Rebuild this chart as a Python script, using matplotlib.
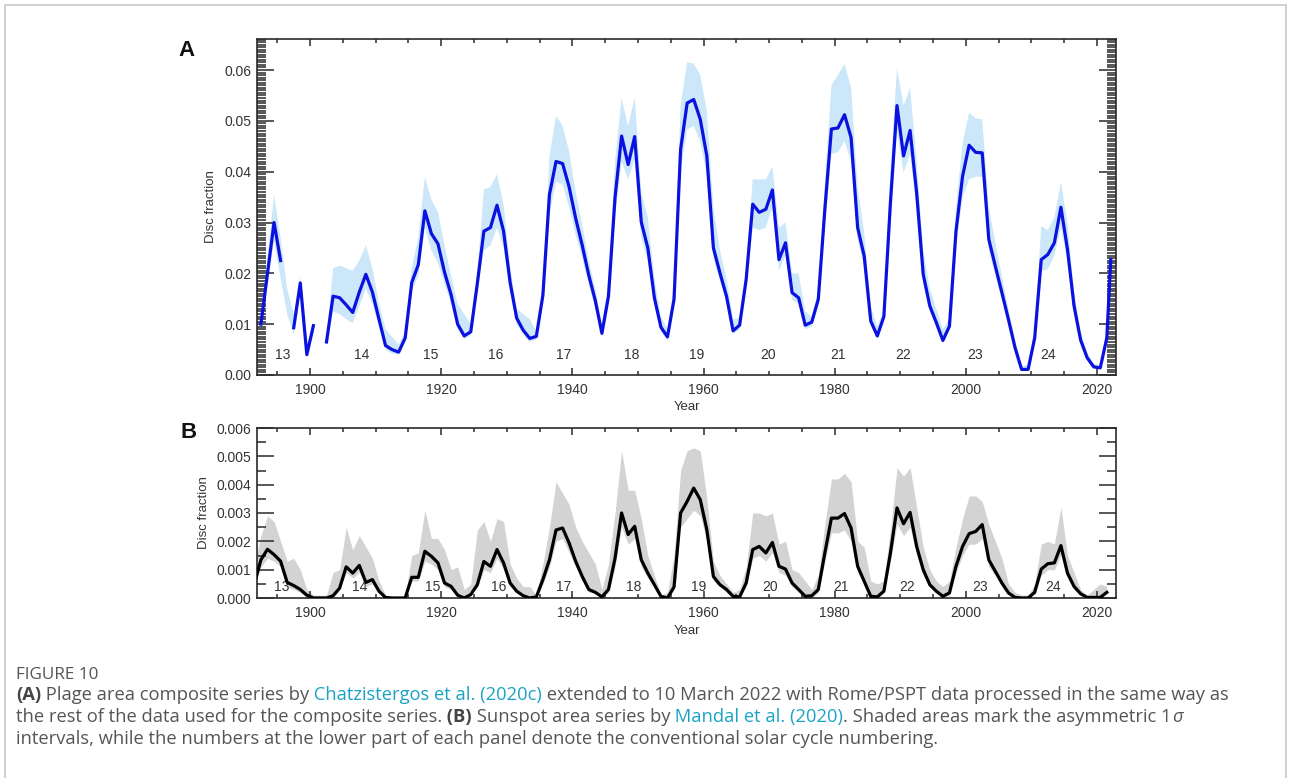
import numpy as np
import matplotlib
matplotlib.use('Agg')
import matplotlib.pyplot as plt
from matplotlib.ticker import MultipleLocator, FormatStrFormatter
from matplotlib.patches import Rectangle

# ---------------- data ----------------
# Panel A: plage area composite (yearly values, last point = early 2022)
years_a = np.append(np.arange(1892.5, 2022, 1.0), 2022.1)
plage = [
    0.0100, 0.0200, 0.0300, 0.0225, np.nan, 0.0093, 0.0181, 0.0040, 0.0097, np.nan,
    0.0065, 0.0155, 0.0152, 0.0138, 0.0123, 0.0163, 0.0198, 0.0163, 0.0110, 0.0058,
    0.0050, 0.0045, 0.0073, 0.0182, 0.0217, 0.0323, 0.0278, 0.0258, 0.0202, 0.0158,
    0.0100, 0.0077, 0.0085, 0.0180, 0.0283, 0.0290, 0.0334, 0.0283, 0.0182, 0.0112,
    0.0088, 0.0072, 0.0076, 0.0157, 0.0355, 0.0420, 0.0416, 0.0370, 0.0308, 0.0255,
    0.0196, 0.0146, 0.0082, 0.0155, 0.0349, 0.0470, 0.0414, 0.0469, 0.0301, 0.0250,
    0.0152, 0.0094, 0.0075, 0.0149, 0.0444, 0.0535, 0.0542, 0.0503, 0.0431, 0.0250,
    0.0201, 0.0155, 0.0087, 0.0098, 0.0188, 0.0336, 0.0320, 0.0326, 0.0364, 0.0227,
    0.0260, 0.0162, 0.0152, 0.0098, 0.0104, 0.0149, 0.0326, 0.0484, 0.0486, 0.0512,
    0.0467, 0.0290, 0.0234, 0.0106, 0.0077, 0.0115, 0.0339, 0.0530, 0.0431, 0.0481,
    0.0358, 0.0198, 0.0136, 0.0103, 0.0068, 0.0096, 0.0283, 0.0391, 0.0452, 0.0438,
    0.0437, 0.0267, 0.0214, 0.0162, 0.0109, 0.0054, 0.0011, 0.0011, 0.0073, 0.0227,
    0.0237, 0.0260, 0.0330, 0.0247, 0.0136, 0.0069, 0.0034, 0.0016, 0.0014, 0.0073,
    0.0227,
]
plage_lo = [
    0.0085, 0.0175, 0.0265, 0.0190, 0.0120, 0.0080, 0.0165, 0.0035, 0.0090, np.nan,
    0.0060, 0.0125, 0.0120, 0.0110, 0.0102, 0.0135, 0.0170, 0.0140, 0.0095, 0.0050,
    0.0042, 0.0040, 0.0065, 0.0165, 0.0195, 0.0290, 0.0245, 0.0220, 0.0180, 0.0140,
    0.0090, 0.0070, 0.0078, 0.0160, 0.0245, 0.0255, 0.0290, 0.0250, 0.0165, 0.0100,
    0.0080, 0.0065, 0.0070, 0.0140, 0.0315, 0.0380, 0.0375, 0.0330, 0.0275, 0.0230,
    0.0178, 0.0132, 0.0075, 0.0140, 0.0310, 0.0420, 0.0385, 0.0425, 0.0270, 0.0225,
    0.0140, 0.0085, 0.0068, 0.0135, 0.0400, 0.0483, 0.0490, 0.0460, 0.0395, 0.0230,
    0.0185, 0.0142, 0.0080, 0.0090, 0.0170, 0.0290, 0.0285, 0.0290, 0.0330, 0.0205,
    0.0235, 0.0148, 0.0140, 0.0090, 0.0095, 0.0135, 0.0290, 0.0435, 0.0438, 0.0460,
    0.0420, 0.0265, 0.0215, 0.0098, 0.0070, 0.0105, 0.0305, 0.0480, 0.0398, 0.0435,
    0.0325, 0.0180, 0.0125, 0.0095, 0.0062, 0.0088, 0.0255, 0.0350, 0.0385, 0.0390,
    0.0390, 0.0245, 0.0195, 0.0148, 0.0100, 0.0050, 0.0009, 0.0009, 0.0065, 0.0205,
    0.0208, 0.0235, 0.0290, 0.0225, 0.0125, 0.0063, 0.0030, 0.0013, 0.0012, 0.0066,
    0.0210,
]
plage_hi = [
    0.0115, 0.0230, 0.0355, 0.0270, 0.0170, 0.0120, 0.0195, 0.0048, 0.0105, np.nan,
    0.0072, 0.0210, 0.0215, 0.0210, 0.0205, 0.0225, 0.0255, 0.0210, 0.0140, 0.0090,
    0.0075, 0.0060, 0.0085, 0.0210, 0.0270, 0.0390, 0.0345, 0.0320, 0.0255, 0.0195,
    0.0140, 0.0120, 0.0100, 0.0200, 0.0365, 0.0370, 0.0395, 0.0335, 0.0215, 0.0130,
    0.0120, 0.0110, 0.0085, 0.0175, 0.0430, 0.0510, 0.0490, 0.0440, 0.0360, 0.0295,
    0.0225, 0.0170, 0.0100, 0.0180, 0.0420, 0.0545, 0.0490, 0.0545, 0.0360, 0.0310,
    0.0190, 0.0115, 0.0090, 0.0175, 0.0530, 0.0615, 0.0613, 0.0590, 0.0520, 0.0330,
    0.0245, 0.0190, 0.0110, 0.0112, 0.0210, 0.0385, 0.0385, 0.0385, 0.0410, 0.0290,
    0.0300, 0.0200, 0.0200, 0.0125, 0.0115, 0.0165, 0.0380, 0.0570, 0.0590, 0.0612,
    0.0565, 0.0370, 0.0280, 0.0135, 0.0095, 0.0130, 0.0400, 0.0604, 0.0530, 0.0565,
    0.0420, 0.0245, 0.0170, 0.0130, 0.0090, 0.0110, 0.0330, 0.0455, 0.0516, 0.0505,
    0.0503, 0.0330, 0.0260, 0.0195, 0.0130, 0.0070, 0.0018, 0.0020, 0.0085, 0.0293,
    0.0285, 0.0310, 0.0380, 0.0300, 0.0165, 0.0085, 0.0045, 0.0022, 0.0020, 0.0085,
    0.0245,
]

# Panel B: sunspot area series (yearly values)
years_b = np.arange(1891.5, 2022, 1.0)
spots = [
    0.0005, 0.00135, 0.00172, 0.00153, 0.0013, 0.00055, 0.00044, 0.0003, 0.0001, 0.0,
    0.0, 0.0, 0.00008, 0.00035, 0.0011, 0.00088, 0.00115, 0.00055, 0.00065, 0.00024,
    0.00002, 0.0, 0.0, 0.0, 0.00073, 0.00073, 0.00165, 0.00147, 0.00124, 0.00053,
    0.00041, 0.0001, 0.0, 0.00012, 0.00047, 0.00129, 0.00112, 0.00171, 0.00124, 0.00053,
    0.00024, 0.00008, 0.0, 0.00004, 0.00065, 0.00135, 0.0024, 0.00247, 0.00194, 0.00129,
    0.00076, 0.0003, 0.0002, 0.00004, 0.0003, 0.0014, 0.003, 0.00224, 0.00253, 0.00135,
    0.00088, 0.00047, 0.00006, 0.0, 0.00039, 0.003, 0.00341, 0.00388, 0.00347, 0.00241,
    0.00076, 0.00047, 0.0003, 0.00006, 0.00004, 0.00053, 0.00171, 0.00182, 0.00159, 0.00196,
    0.00112, 0.00102, 0.00053, 0.0003, 0.00006, 0.00008, 0.0003, 0.00159, 0.00282, 0.00282,
    0.00298, 0.00247, 0.00112, 0.00059, 0.00006, 0.00004, 0.00024, 0.00159, 0.00318, 0.00262,
    0.00302, 0.00182, 0.001, 0.00047, 0.00024, 0.00006, 0.00018, 0.00112, 0.00182, 0.00227,
    0.00235, 0.00259, 0.00135, 0.00094, 0.00053, 0.00018, 0.00002, 0.0, 0.0, 0.0002,
    0.00102, 0.00121, 0.00124, 0.00185, 0.00088, 0.00041, 0.00015, 0.00002, 0.00002, 0.00002,
    0.0002,
]
spots_lo = [
    0.0004, 0.0011, 0.0014, 0.0013, 0.0011, 0.0004, 0.0003, 0.0002, 0.0, 0.0,
    0.0, 0.0, 0.0, 0.0003, 0.0009, 0.0007, 0.0009, 0.0004, 0.0005, 0.0002,
    0.0, 0.0, 0.0, 0.0, 0.0006, 0.0006, 0.0013, 0.0012, 0.001, 0.0004,
    0.0003, 0.0001, 0.0, 0.0001, 0.0004, 0.001, 0.0009, 0.0014, 0.001, 0.0004,
    0.0002, 0.0001, 0.0, 0.0, 0.0005, 0.0011, 0.002, 0.0021, 0.0016, 0.0011,
    0.0006, 0.0002, 0.0002, 0.0, 0.0002, 0.0011, 0.0025, 0.0019, 0.0021, 0.0011,
    0.0007, 0.0004, 0.0, 0.0, 0.0003, 0.0025, 0.0028, 0.0031, 0.0029, 0.002,
    0.0006, 0.0004, 0.0002, 0.0, 0.0, 0.0004, 0.0014, 0.0015, 0.0013, 0.0016,
    0.0009, 0.0008, 0.0004, 0.0002, 0.0, 0.0, 0.0002, 0.0013, 0.0023, 0.0023,
    0.0024, 0.002, 0.0009, 0.0005, 0.0, 0.0, 0.0002, 0.0013, 0.0026, 0.0022,
    0.0025, 0.0015, 0.0008, 0.0004, 0.0002, 0.0, 0.0001, 0.0009, 0.0015, 0.0019,
    0.0019, 0.0021, 0.0011, 0.0008, 0.0004, 0.0001, 0.0, 0.0, 0.0, 0.0002,
    0.0008, 0.001, 0.001, 0.0015, 0.0007, 0.0003, 0.0001, 0.0, 0.0, 0.0,
    0.0002,
]
spots_hi = [
    0.0012, 0.0022, 0.0029, 0.0027, 0.002, 0.0013, 0.0014, 0.001, 0.0003, 0.0001,
    0.0001, 0.0001, 0.0009, 0.001, 0.0025, 0.0017, 0.0022, 0.0018, 0.0014, 0.0006,
    0.0001, 0.0, 0.0, 0.0001, 0.0015, 0.0016, 0.0031, 0.0021, 0.0021, 0.0017,
    0.001, 0.0011, 0.0003, 0.0005, 0.0024, 0.0027, 0.002, 0.0028, 0.0027, 0.0012,
    0.0007, 0.0004, 0.0004, 0.0001, 0.0012, 0.0025, 0.0041, 0.0037, 0.0033, 0.0025,
    0.002, 0.0016, 0.0012, 0.0003, 0.0012, 0.003, 0.0052, 0.0038, 0.0038, 0.0028,
    0.0015, 0.0008, 0.0001, 0.0002, 0.0015, 0.0045, 0.0052, 0.0053, 0.0052, 0.0035,
    0.0013, 0.0008, 0.0005, 0.0002, 0.0003, 0.0011, 0.003, 0.003, 0.0029, 0.003,
    0.0019, 0.002, 0.001, 0.0009, 0.0006, 0.0003, 0.0008, 0.0026, 0.0042, 0.0042,
    0.0044, 0.0041, 0.002, 0.0018, 0.0006, 0.0005, 0.0006, 0.0024, 0.0046, 0.0043,
    0.0046, 0.0032, 0.0018, 0.001, 0.0006, 0.0004, 0.0006, 0.0018, 0.0028, 0.0036,
    0.0036, 0.0034, 0.0026, 0.002, 0.0014, 0.0005, 0.0002, 0.0001, 0.0001, 0.0005,
    0.0019, 0.002, 0.0019, 0.0032, 0.0015, 0.0009, 0.0003, 0.0001, 0.0003, 0.0005,
    0.0004,
]

# solar cycle numbers and where they are written
cycle_nums = ['13', '14', '15', '16', '17', '18', '19', '20', '21', '22', '23', '24']
cycle_x_a = [1895.8, 1907.8, 1918.4, 1928.3, 1938.7, 1949.1, 1958.9, 1969.8, 1980.5, 1990.4, 2001.4, 2012.5]
cycle_x_b = [1895.7, 1907.6, 1918.7, 1928.7, 1938.6, 1949.3, 1959.3, 1970.1, 1981.0, 1991.0, 2002.1, 2013.3]

# ---------------- figure ----------------
W, H = 1290, 778
fig = plt.figure(figsize=(W / 100, H / 100), dpi=100)
plt.rcParams['font.family'] = ['Liberation Sans', 'DejaVu Sans']

dark = '#2a2a2a'
txt = '#333333'


def box(left, top, right, bottom):
    return [left / W, 1 - bottom / H, (right - left) / W, (bottom - top) / H]


def style_axes(ax, ymax, ystep, fmt):
    ax.set_xlim(1891.9, 2022.9)
    ax.set_ylim(0, ymax)
    ax.xaxis.set_major_locator(MultipleLocator(20))
    ax.xaxis.set_minor_locator(MultipleLocator(5))
    ax.yaxis.set_major_locator(MultipleLocator(ystep))
    ax.yaxis.set_minor_locator(MultipleLocator(ystep / 20 if ystep > 0.005 else ystep / 2))
    ax.yaxis.set_major_formatter(FormatStrFormatter(fmt))
    ax.tick_params(which='both', direction='in', top=True, right=True,
                   color=dark, labelcolor=txt, labelsize=10)
    ax.tick_params(axis='y', which='major', length=12.5, width=1.1, pad=4)
    ax.tick_params(axis='y', which='minor', length=6.5, width=1.1)
    ax.tick_params(axis='x', which='major', length=5, width=1.1, pad=6)
    ax.tick_params(axis='x', which='minor', length=3, width=1.1)
    for s in ax.spines.values():
        s.set_linewidth(1.2)
        s.set_color(dark)


# Panel A
axA = fig.add_axes(box(257, 39, 1116, 375))
axA.fill_between(years_a, plage_lo, plage_hi, color='#cce7f9', lw=0, zorder=1)
axA.plot(years_a, plage, color='#0b12e0', lw=2.3, zorder=3)
style_axes(axA, 0.0661, 0.01, '%.2f')
axA.set_xlabel('Year', fontsize=9.5, color=txt, labelpad=3)
axA.set_ylabel('Disc fraction', fontsize=9.5, color=txt, labelpad=5)
for n, xc in zip(cycle_nums, cycle_x_a):
    axA.text(xc, 0.06, n, transform=axA.get_xaxis_transform(), ha='center',
             va='center', fontsize=10, color=txt, zorder=2)
fig.text(186 / W, 1 - 50 / H, 'A', fontsize=16, fontweight='bold', color='#111111',
         ha='center', va='center')

# Panel B
axB = fig.add_axes(box(257, 428, 1116, 598))
axB.fill_between(years_b, spots_lo, spots_hi, color='#d3d3d3', lw=0, zorder=1)
axB.plot(years_b, spots, color='#000000', lw=2.3, zorder=3)
style_axes(axB, 0.006, 0.001, '%.3f')
axB.set_xlabel('Year', fontsize=9.5, color=txt, labelpad=3)
axB.set_ylabel('Disc fraction', fontsize=9.5, color=txt, labelpad=5)
for n, xc in zip(cycle_nums, cycle_x_b):
    axB.text(xc, 0.066, n, transform=axB.get_xaxis_transform(), ha='center',
             va='center', fontsize=10, color=txt, zorder=2)
fig.text(189 / W, 1 - 433 / H, 'B', fontsize=16, fontweight='bold', color='#111111',
         ha='center', va='center')

# outer frame of the figure panel
fig.add_artist(Rectangle((5 / W, -0.05), 1281 / W, 1.05 - 5 / H, transform=fig.transFigure,
                         fill=False, edgecolor='#c8c8c8', lw=1.2))

# ---------------- caption ----------------
cap_font = ['Open Sans', 'DejaVu Sans']
grey = '#555555'
link = '#1aa3c6'
renderer = fig.canvas.get_renderer()


def runs(x, y, parts, size=13.2):
    for s, color, weight, style in parts:
        t = fig.text(x / W, 1 - y / H, s, fontsize=size, color=color, fontweight=weight,
                     fontstyle=style, family=cap_font, ha='left', va='baseline')
        x += t.get_window_extent(renderer).width


fig.text(16 / W, 1 - 679 / H, 'FIGURE 10', fontsize=12.3, color=grey, family=cap_font,
         ha='left', va='baseline')
runs(16, 700, [
    ('(A)', '#444444', 'bold', 'normal'),
    (' Plage area composite series by', grey, 'normal', 'normal'),
    (' Chatzistergos et al. (2020c)', link, 'normal', 'normal'),
    (' extended to 10 March 2022 with Rome/PSPT data processed in the same way as', grey, 'normal', 'normal'),
])
runs(16, 722, [
    ('the rest of the data used for the composite series.', grey, 'normal', 'normal'),
    (' (B)', '#444444', 'bold', 'normal'),
    (' Sunspot area series by', grey, 'normal', 'normal'),
    (' Mandal et al. (2020)', link, 'normal', 'normal'),
    ('. Shaded areas mark the asymmetric 1', grey, 'normal', 'normal'),
    ('σ', grey, 'normal', 'italic'),
])
runs(16, 744, [
    ('intervals, while the numbers at the lower part of each panel denote the conventional solar cycle numbering.',
     grey, 'normal', 'normal'),
])

fig.savefig('out.png', dpi=100)
